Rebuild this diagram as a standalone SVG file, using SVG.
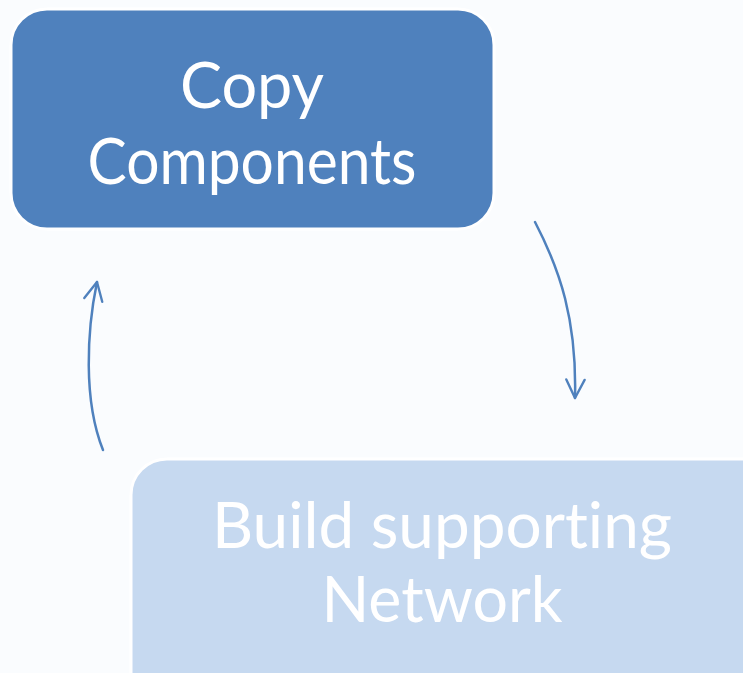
<svg xmlns="http://www.w3.org/2000/svg" width="743" height="673" viewBox="0 0 743 673">
  <style>
    .box { stroke: #ffffff; stroke-width: 3; }
    .label { font-family: "Lato", "Open Sans", "Liberation Sans", sans-serif; font-size: 63px; fill: #ffffff; text-anchor: middle; font-variant-ligatures: none; font-feature-settings: "liga" 0; }
    .link { fill: none; stroke: #4F81BD; stroke-width: 2.5; stroke-linecap: round; }
  </style>
  <defs>
    <marker id="chev" viewBox="0 0 12 12" refX="11" refY="6" markerWidth="22" markerHeight="22" markerUnits="userSpaceOnUse" orient="auto">
      <path d="M1,1 L11,6 L1,11" fill="none" stroke="#4F81BD" stroke-width="1.3" stroke-linecap="round" stroke-linejoin="round"/>
    </marker>
  </defs>
  <rect width="743" height="673" fill="#FAFCFE"/>

  <g id="copy-components">
    <rect class="box" x="11" y="9" width="483" height="220" rx="36" fill="#4F81BD"/>
    <text class="label" x="252" y="108">Copy</text>
    <text class="label" x="252" y="184" textLength="329" lengthAdjust="spacingAndGlyphs">Components</text>
  </g>

  <g id="build-network">
    <rect class="box" x="131" y="459" width="660" height="260" rx="36" fill="#C6D9F0"/>
    <text class="label" x="442" y="548" textLength="460" lengthAdjust="spacingAndGlyphs">Build supporting</text>
    <text class="label" x="442" y="622" textLength="241" lengthAdjust="spacingAndGlyphs">Network</text>
  </g>

  <g id="connectors">
    <path class="link" d="M535,222 C560,270 577,320 575,398" marker-end="url(#chev)"/>
    <path class="link" d="M103,450 C83,400 87,330 97,282" marker-end="url(#chev)"/>
  </g>
</svg>
